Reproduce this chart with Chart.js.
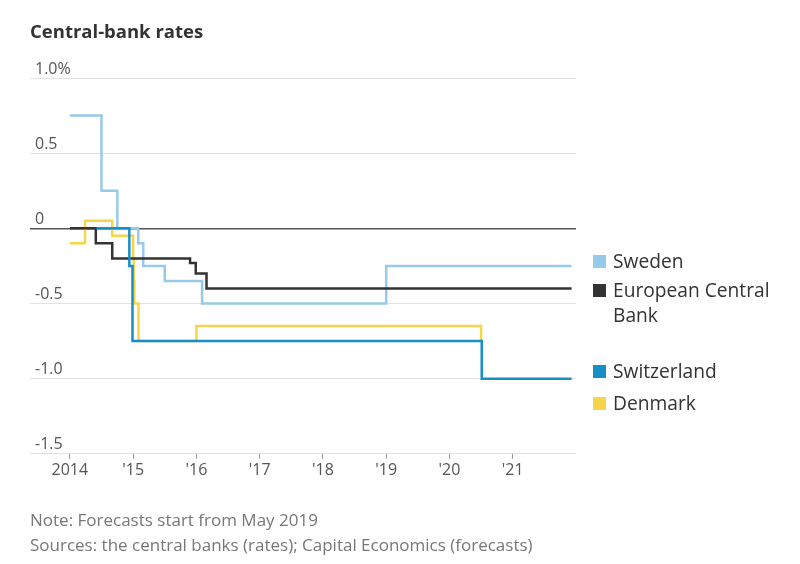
<!DOCTYPE html>
<html>
<head>
<meta charset="utf-8">
<script src="https://cdn.jsdelivr.net/npm/chart.js@4.4.1/dist/chart.umd.min.js"></script>
<style>
    body { margin: 0; background: #fff; }
    #wrap { position: relative; width: 800px; height: 564px; overflow: hidden; font-family: "Open Sans", "Noto Sans", sans-serif; }
    #chart { position: absolute; left: 0; top: 0; }
    .txt { position: absolute; line-height: 1; white-space: nowrap; }
    .title { left: 30px; top: 22px; font-size: 18.5px; font-weight: bold; color: #333; }
    .note { left: 30px; font-size: 17px; color: #777; }
    .key { left: 593px; font-size: 19.2px; color: #333; }
    .key i { display: inline-block; width: 13px; height: 13px; margin-right: 7px; }
</style>
</head>
<body>
<div id="wrap">
    <canvas id="chart" width="800" height="564"></canvas>
    <div class="txt title">Central-bank rates</div>

    <!-- Legend -->
    <div class="txt key" style="top:251px"><i style="background:#96c9ea"></i>Sweden</div>
    <div class="txt key" style="top:280px"><i style="background:#333"></i>European Central</div>
    <div class="txt key" style="top:305px; left:613px">Bank</div>
    <div class="txt key" style="top:361px"><i style="background:#168fc6"></i>Switzerland</div>
    <div class="txt key" style="top:393px"><i style="background:#f7d54a"></i>Denmark</div>

    <div class="txt note" style="top:511px">Note: Forecasts start from May 2019</div>
    <div class="txt note" style="top:536px">Sources: the central banks (rates); Capital Economics (forecasts)</div>
</div>

<script>
// policy rates, % (each point = date the new rate starts)
const swedenDates = [2014.0, 2014.5, 2014.75, 2015.08, 2015.16, 2015.5, 2016.09, 2019.0, 2021.93];
const swedenRates = [0.75, 0.25, 0, -0.1, -0.25, -0.35, -0.5, -0.25, -0.25];

const ecbDates = [2014.0, 2014.41, 2014.67, 2015.9, 2015.99, 2016.16, 2021.93];
const ecbRates = [0, -0.1, -0.2, -0.23, -0.3, -0.4, -0.4];

const swissDates = [2014.42, 2014.94, 2014.99, 2020.51, 2021.93];
const swissRates = [0, -0.25, -0.75, -1.0, -1.0];

const denmarkDates = [2014.0, 2014.24, 2014.67, 2015.0, 2015.01, 2015.02, 2015.085, 2016.0, 2020.5];
const denmarkRates = [-0.1, 0.05, -0.05, -0.2, -0.35, -0.5, -0.75, -0.65, -0.75];

const xTickYears = [2014, 2015, 2016, 2017, 2018, 2019, 2020, 2021];
const xTickLabels = ['2014', "'15", "'16", "'17", "'18", "'19", "'20", "'21"];
const yTickValues = [1.0, 0.5, 0, -0.5, -1.0, -1.5];
const yTickLabels = ['1.0%', '0.5', '0', '-0.5', '-1.0', '-1.5'];

const toPoints = (dates, rates) => dates.map((d, i) => ({ x: d, y: rates[i] }));

const lineStyle = {
    stepped: true,
    fill: false,
    pointRadius: 0,
    borderWidth: 2.5,
    borderCapStyle: 'butt',
};

const tickFont = { family: '"Open Sans", "Noto Sans", sans-serif', size: 16 };

// first dataset is drawn on top
new Chart(document.getElementById('chart').getContext('2d'), {
    type: 'line',
    data: {
        datasets: [
            { ...lineStyle, label: 'Switzerland', data: toPoints(swissDates, swissRates), borderColor: '#168fc6' },
            { ...lineStyle, label: 'European Central Bank', data: toPoints(ecbDates, ecbRates), borderColor: '#333333' },
            { ...lineStyle, label: 'Denmark', data: toPoints(denmarkDates, denmarkRates), borderColor: '#f7d54a' },
            { ...lineStyle, label: 'Sweden', data: toPoints(swedenDates, swedenRates), borderColor: '#96c9ea' },
        ],
    },
    options: {
        responsive: false,
        animation: false,
        layout: { padding: { left: 20, right: 224, top: 78, bottom: 82 } },
        plugins: {
            legend: { display: false },
            tooltip: { enabled: false },
        },
        scales: {
            x: {
                type: 'linear',
                min: 2013.37,
                max: 2022.0,
                afterBuildTicks: (axis) => { axis.ticks = xTickYears.map(v => ({ value: v })); },
                ticks: {
                    autoSkip: false,
                    maxRotation: 0,
                    padding: 2,
                    color: '#555',
                    font: tickFont,
                    callback: (value) => xTickLabels[xTickYears.indexOf(value)],
                },
                grid: { drawOnChartArea: false, drawTicks: true, tickLength: 5, color: '#999' },
                border: { display: false },
            },
            y: {
                type: 'linear',
                min: -1.5,
                max: 1.0,
                afterBuildTicks: (axis) => { axis.ticks = yTickValues.map(v => ({ value: v })); },
                ticks: {
                    mirror: true,
                    padding: 5,
                    labelOffset: -9,
                    color: '#555',
                    font: tickFont,
                    callback: (value) => yTickLabels[yTickValues.indexOf(value)],
                },
                grid: {
                    drawTicks: false,
                    color: (ctx) => (ctx.tick && ctx.tick.value === 0 ? '#555' : '#e2e2e2'),
                    lineWidth: (ctx) => (ctx.tick && ctx.tick.value === 0 ? 1.5 : 1),
                },
                border: { display: false },
            },
        },
    },
});
</script>
</body>
</html>
